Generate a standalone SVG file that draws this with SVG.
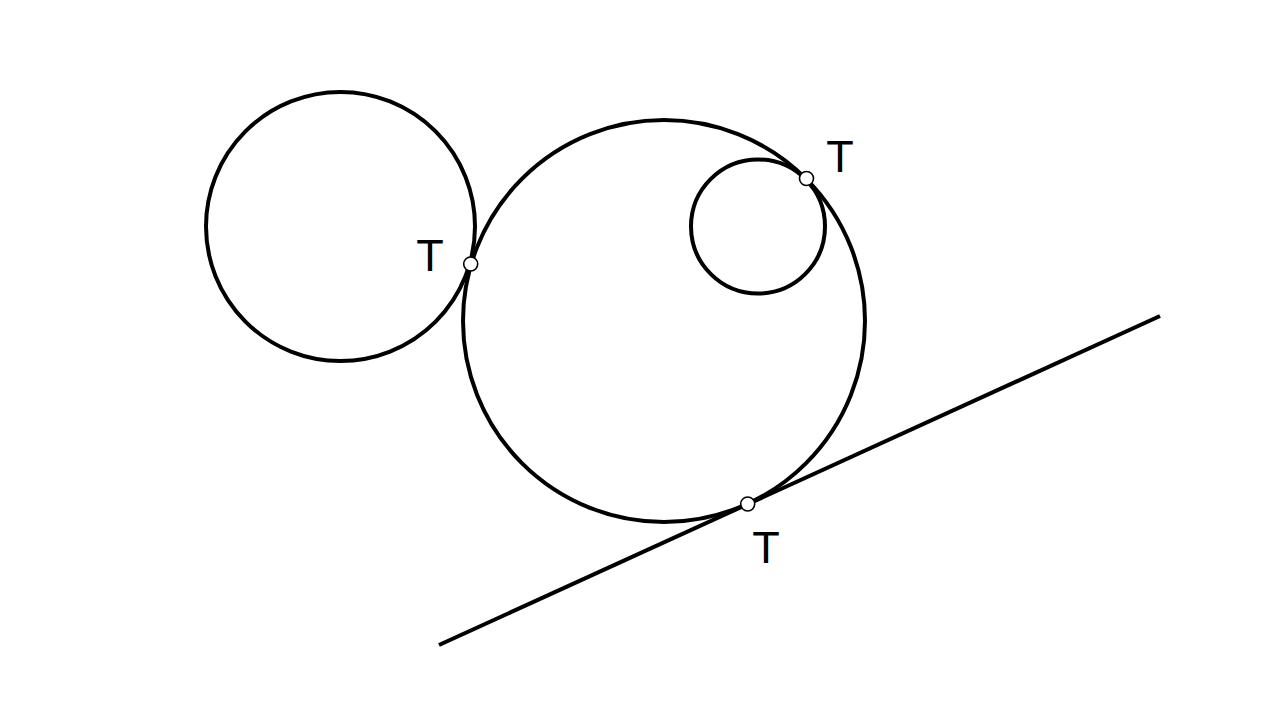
<svg xmlns="http://www.w3.org/2000/svg" width="1280" height="720" viewBox="0 0 1280 720">
<style>
.c{fill:none;stroke:#000;stroke-width:4}
.p{fill:#fff;stroke:#000;stroke-width:1.6}
.t{font-family:"Liberation Sans",Arial,sans-serif;font-size:45px;fill:#000;text-anchor:middle}
</style>
<rect width="1280" height="720" fill="#fff"/>
<g id="circle-left"><circle class="c" cx="340.5" cy="226.5" r="134.5"/></g>
<g id="circle-big"><circle class="c" cx="664" cy="321" r="201"/></g>
<g id="circle-small"><circle class="c" cx="758" cy="226.5" r="67"/></g>
<g id="connectors"><line class="c" x1="439" y1="645" x2="1160" y2="316"/></g>
<g id="point-1"><circle class="p" cx="470.7" cy="264" r="7"/><text class="t" x="430" y="271">T</text></g>
<g id="point-2"><circle class="p" cx="806.5" cy="178.5" r="7"/><text class="t" x="840" y="172">T</text></g>
<g id="point-3"><circle class="p" cx="747.7" cy="504" r="7"/><text class="t" x="766" y="563">T</text></g>
</svg>
